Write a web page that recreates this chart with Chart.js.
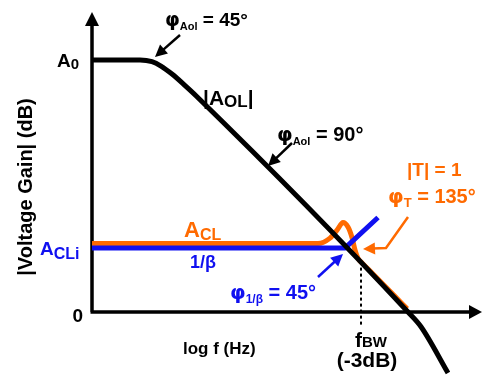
<!DOCTYPE html>
<html>
<head>
<meta charset="utf-8">
<script src="https://cdn.jsdelivr.net/npm/chart.js@4.4.1/dist/chart.umd.min.js"></script>
<style>
  html, body { margin: 0; padding: 0; background: #fff; }
  #c { display: block; }
</style>
</head>
<body>
<canvas id="c" width="482" height="379"></canvas>
<script>
// log f (decades, arbitrary origin) and gain (dB)
const olLogF = [0, 1.2, 1.5, 1.725, 2.0, 2.3, 2.6, 7.9, 8.225, 8.9];
const olGain = [120, 120, 119.2, 117.1, 113.3, 108.3, 103, 0, -7, -29];

const betaLogF = [0, 6.33, 7.15];
const betaGain = [30.5, 30.5, 45];

const clLogF = [0, 5.65, 5.95, 6.125, 6.275, 6.4, 6.5, 6.575, 6.65, 6.75, 7.0, 7.5, 7.88];
const clGain = [32.6, 32.6, 35.2, 39, 42.6, 40.5, 35.5, 29.5, 25.5, 23.4, 18.6, 8.9, 1.5];

const fBW = 6.725;          // -3dB bandwidth marker
const yTickVals = [0, 120];
const yTickLabels = ['0', 'A_{0}'];

const BLACK = '#000000', ORANGE = '#FF6A00', BLUE = '#1010F0';
const FONT = '"Liberation Sans", Arial, sans-serif';
const PHI_FONT = '"DejaVu Sans", sans-serif';

const pts = (xs, ys) => xs.map((x, i) => ({ x: x, y: ys[i] }));

// draws text with _{...} subscripts, φ taken from a wider font
function rich(ctx, str, x, y, o) {
  const parts = [];
  const re = /_\{([^}]*)\}|φ/g;
  let last = 0, m;
  while ((m = re.exec(str))) {
    if (m.index > last) parts.push({ t: str.slice(last, m.index) });
    if (m[0] === 'φ') parts.push({ t: 'φ', phi: true });
    else parts.push({ t: m[1], sub: true });
    last = re.lastIndex;
  }
  if (last < str.length) parts.push({ t: str.slice(last) });
  const size = o.size || 19, sub = o.sub || 12, dy = o.dy == null ? 4 : o.dy;
  const fontOf = p => 'bold ' + (p.sub ? sub : size) + 'px ' + (p.phi ? PHI_FONT : FONT);
  let w = 0;
  parts.forEach(p => {
    ctx.font = fontOf(p);
    p.w = ctx.measureText(p.t).width;
    w += p.w;
  });
  let cx = x;
  if (o.align === 'center') cx = x - w / 2;
  if (o.align === 'right') cx = x - w;
  ctx.fillStyle = o.color || BLACK;
  ctx.textAlign = 'left';
  ctx.textBaseline = 'alphabetic';
  parts.forEach(p => {
    ctx.font = fontOf(p);
    ctx.fillText(p.t, cx, y + (p.sub ? dy : 0));
    cx += p.w;
  });
}

function arrow(ctx, path, color, lw) {
  ctx.save();
  ctx.strokeStyle = color;
  ctx.fillStyle = color;
  ctx.lineWidth = lw;
  ctx.lineJoin = 'miter';
  const n = path.length;
  const [tx, ty] = path[n - 1], [px, py] = path[n - 2];
  const a = Math.atan2(ty - py, tx - px);
  const hl = 12, hw = 6;
  ctx.beginPath();
  ctx.moveTo(path[0][0], path[0][1]);
  for (let i = 1; i < n - 1; i++) ctx.lineTo(path[i][0], path[i][1]);
  ctx.lineTo(tx - Math.cos(a) * hl * 0.8, ty - Math.sin(a) * hl * 0.8);
  ctx.stroke();
  ctx.beginPath();
  ctx.moveTo(tx, ty);
  ctx.lineTo(tx - Math.cos(a) * hl - Math.sin(a) * hw, ty - Math.sin(a) * hl + Math.cos(a) * hw);
  ctx.lineTo(tx - Math.cos(a) * hl + Math.sin(a) * hw, ty - Math.sin(a) * hl - Math.cos(a) * hw);
  ctx.closePath();
  ctx.fill();
  ctx.restore();
}

const bodePlugin = {
  id: 'bode',
  beforeDatasetsDraw(chart) {
    const ctx = chart.ctx, a = chart.chartArea;
    const xs = chart.scales.x, ys = chart.scales.y;
    const x0 = xs.getPixelForValue(0), y0 = ys.getPixelForValue(0);
    ctx.save();
    ctx.strokeStyle = BLACK;
    ctx.lineWidth = 3.5;
    ctx.beginPath();
    ctx.moveTo(x0, y0);
    ctx.lineTo(x0, a.top + 10);
    ctx.moveTo(x0 - 1.5, y0);
    ctx.lineTo(a.right - 8, y0);
    ctx.stroke();
    ctx.fillStyle = BLACK;
    ctx.beginPath();
    ctx.moveTo(x0, a.top);
    ctx.lineTo(x0 - 7, a.top + 14);
    ctx.lineTo(x0 + 7, a.top + 14);
    ctx.closePath();
    ctx.fill();
    ctx.beginPath();
    ctx.moveTo(a.right, y0);
    ctx.lineTo(a.right - 13, y0 - 7);
    ctx.lineTo(a.right - 13, y0 + 7);
    ctx.closePath();
    ctx.fill();

    // f_BW dashed marker
    const fx = xs.getPixelForValue(fBW);
    ctx.setLineDash([3, 3]);
    ctx.lineWidth = 2;
    ctx.beginPath();
    ctx.moveTo(fx, ys.getPixelForValue(24));
    ctx.lineTo(fx, ys.getPixelForValue(-6));
    ctx.stroke();
    ctx.restore();
  },
  afterDatasetsDraw(chart) {
    const ctx = chart.ctx;
    const ys = chart.scales.y, xs = chart.scales.x;
    ctx.save();

    // y tick labels
    rich(ctx, yTickLabels[1], xs.getPixelForValue(0) - 13, ys.getPixelForValue(yTickVals[1]) + 7, { size: 19, sub: 15, dy: 2, align: 'right' });
    rich(ctx, yTickLabels[0], xs.getPixelForValue(0) - 9, ys.getPixelForValue(yTickVals[0]) + 10, { size: 19, align: 'right' });

    // axis titles
    ctx.save();
    ctx.translate(32, 187);
    ctx.rotate(-Math.PI / 2);
    ctx.font = 'bold 20px ' + FONT;
    ctx.fillStyle = BLACK;
    ctx.textAlign = 'center';
    ctx.fillText('|Voltage Gain| (dB)', 0, 0);
    ctx.restore();
    rich(ctx, 'log f (Hz)', 183, 354, { size: 17 });
    rich(ctx, 'f_{BW}', 371, 347, { size: 21, sub: 15, dy: 0, align: 'center' });
    rich(ctx, '(-3dB)', 367, 367, { size: 21, align: 'center' });

    // annotations
    rich(ctx, 'φ_{Aol} = 45°', 165, 26, { size: 19, sub: 11, dy: 4 });
    rich(ctx, '|A_{OL}|', 203, 105, { size: 21, sub: 17, dy: 2 });
    rich(ctx, 'φ_{Aol} = 90°', 277, 141, { size: 20, sub: 11, dy: 4 });
    rich(ctx, '|T| = 1', 407, 176, { size: 19, color: ORANGE });
    rich(ctx, 'φ_{T} = 135°', 388, 203, { size: 20, sub: 13, dy: 4, color: ORANGE });
    rich(ctx, 'A_{CL}', 184, 237, { size: 22, sub: 16, dy: 3, color: ORANGE });
    rich(ctx, 'A_{CLi}', 40, 255, { size: 19, sub: 16, dy: 4, color: BLUE });
    rich(ctx, '1/β', 190, 268, { size: 18, color: BLUE });
    rich(ctx, 'φ_{1/β} = 45°', 230, 299, { size: 20, sub: 12, dy: 4, color: BLUE });

    arrow(ctx, [[180, 35], [155, 57]], BLACK, 2.5);
    arrow(ctx, [[292, 143], [268, 166]], BLACK, 2.5);
    arrow(ctx, [[318, 277], [343, 254]], BLUE, 2.5);
    arrow(ctx, [[408, 217], [386, 248], [363, 249]], ORANGE, 2.5);
    ctx.restore();
  }
};

new Chart(document.getElementById('c'), {
  type: 'scatter',
  data: {
    datasets: [
      {
        label: '|A_OL|',
        data: pts(olLogF, olGain),
        showLine: true,
        borderColor: BLACK,
        borderWidth: 5,
        pointRadius: 0,
        cubicInterpolationMode: 'monotone',
        borderJoinStyle: 'round',
        clip: false
      },
      {
        label: '1/β',
        data: pts(betaLogF, betaGain),
        showLine: true,
        borderColor: BLUE,
        borderWidth: 5,
        pointRadius: 0,
        tension: 0,
        borderJoinStyle: 'round',
        clip: false
      },
      {
        label: 'A_CL',
        data: pts(clLogF, clGain),
        showLine: true,
        borderColor: ORANGE,
        borderWidth: 5,
        pointRadius: 0,
        cubicInterpolationMode: 'monotone',
        borderJoinStyle: 'round',
        clip: false
      }
    ]
  },
  options: {
    responsive: false,
    animation: false,
    devicePixelRatio: 1,
    layout: { padding: { left: 92, right: 0, top: 12, bottom: 67 } },
    scales: {
      x: { type: 'linear', min: 0, max: 9.75, display: false },
      y: { type: 'linear', min: 0, max: 300 / 2.1, display: false }
    },
    plugins: {
      legend: { display: false },
      tooltip: { enabled: false }
    }
  },
  plugins: [bodePlugin]
});
</script>
</body>
</html>
